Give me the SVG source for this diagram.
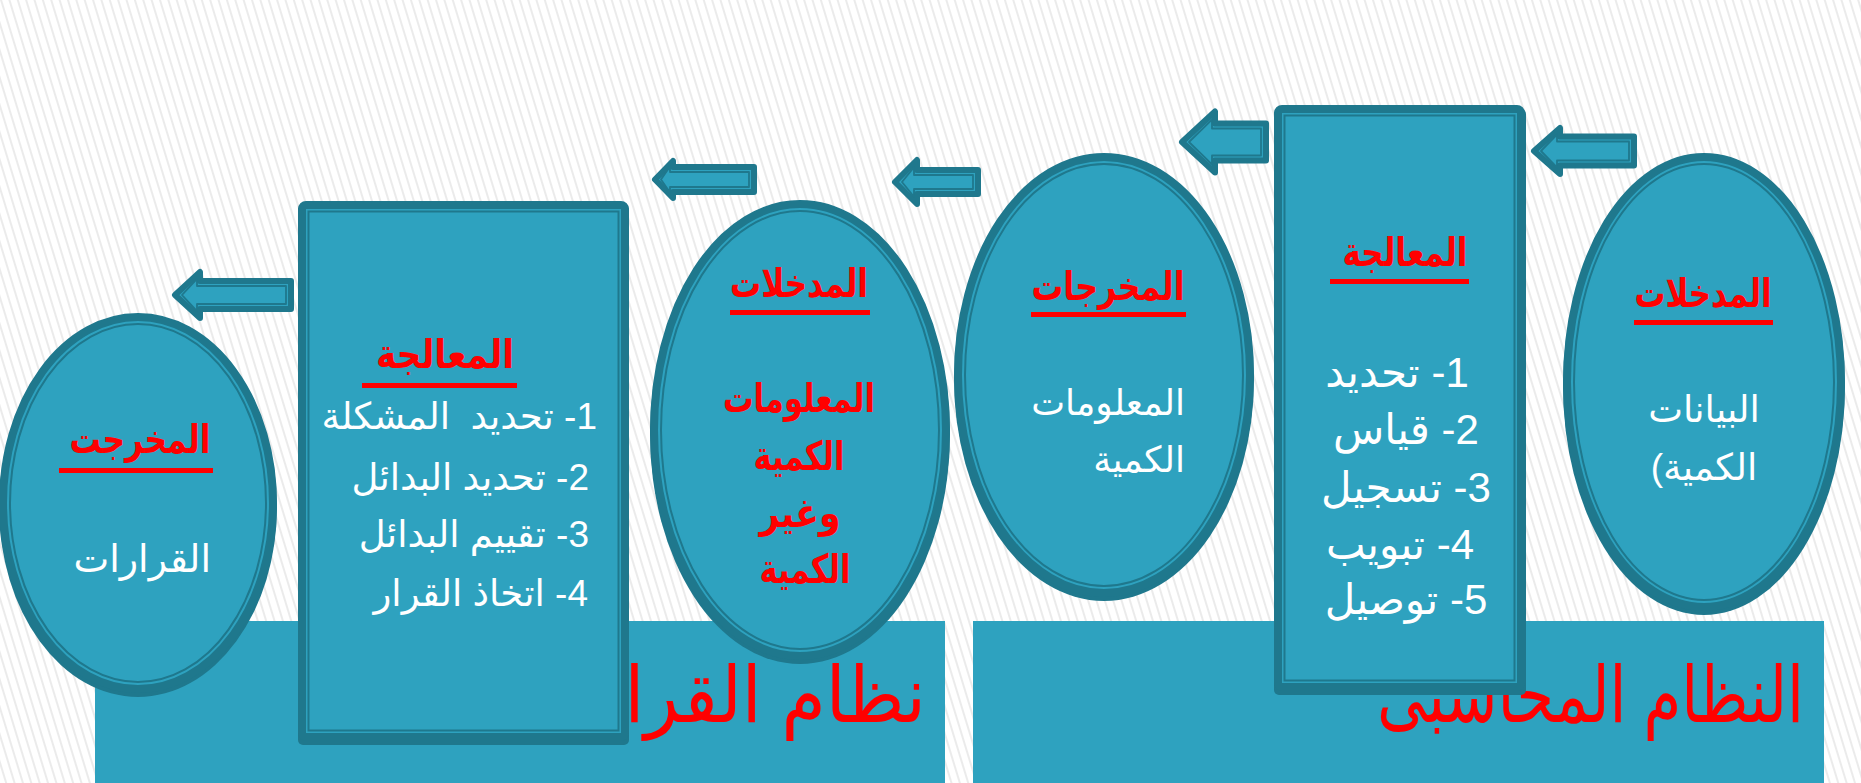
<svg xmlns="http://www.w3.org/2000/svg" width="1861" height="783" viewBox="0 0 1861 783">
<defs>
<pattern id="stripes" width="8" height="8" patternUnits="userSpaceOnUse" patternTransform="rotate(-17)">
<rect width="8" height="8" fill="#ffffff"/>
<rect width="2" height="8" fill="#ebebeb"/>
</pattern>
</defs>
<style>
.bar{fill:#2ea2bf}
.shape{fill:#2ea2bf;stroke:#1f788d;stroke-width:8}
.shadow{fill:#1f788d}
.inner{fill:none;stroke:#1f788d;stroke-width:2}
.arrow{fill:#2ea2bf;stroke:#1f788d;stroke-width:6;stroke-linejoin:round}
.arrowin{fill:none;stroke:#1f788d;stroke-width:1.8;stroke-linejoin:round}
text{font-family:'Liberation Sans','DejaVu Sans',sans-serif}
.h{font-weight:bold;fill:#ff0000;font-size:40px}
.hb{font-weight:bold;fill:#ff0000;font-size:40px}
.w{fill:#ffffff}
.ul{fill:#ff0000}
.title{fill:#ff0000;font-size:78px}
</style>
<rect width="1861" height="783" fill="url(#stripes)"/>

<g id="bar-decision">
<rect class="bar" x="95" y="621" width="850" height="162"/>
<text class="title" x="926" y="722" direction="rtl" text-anchor="start" textLength="336" lengthAdjust="spacingAndGlyphs">نظام القرار</text>
</g>
<g id="bar-accounting">
<rect class="bar" x="973" y="621" width="851" height="162"/>
<text class="title" x="1804" y="722" direction="rtl" text-anchor="start" textLength="427" lengthAdjust="spacingAndGlyphs">النظام المحاسبى</text>
</g>

<g id="node-decisions-output">
<ellipse class="shadow" cx="138" cy="507" rx="139" ry="190"/>
<ellipse class="shape" cx="138" cy="503" rx="135" ry="186"/>
<ellipse class="inner" cx="138" cy="503" rx="128" ry="179"/>
<text class="h" x="140" y="453" text-anchor="middle" direction="rtl" textLength="141" lengthAdjust="spacingAndGlyphs">المخرجت</text>
<rect class="ul" x="59" y="468" width="154" height="5"/>
<text class="w" x="211" y="572" font-size="38" text-anchor="start" direction="rtl">القرارات</text>
</g>

<g id="node-decision-processing">
<rect class="shadow" x="298" y="205" width="331" height="540" rx="5"/>
<rect class="shape" x="302" y="205" width="323" height="532" rx="4"/>
<rect class="inner" x="308.5" y="211.5" width="310" height="519"/>
<text class="h" x="445" y="368" text-anchor="middle" direction="rtl" textLength="138" lengthAdjust="spacingAndGlyphs">المعالجة</text>
<rect class="ul" x="362" y="383" width="155" height="5"/>
<text class="w" x="597" y="429" font-size="37" direction="rtl" text-anchor="start" xml:space="preserve">1- تحديد  المشكلة</text>
<text class="w" x="589" y="490" font-size="37" direction="rtl" text-anchor="start">2- تحديد البدائل</text>
<text class="w" x="589" y="547" font-size="37" direction="rtl" text-anchor="start">3- تقييم البدائل</text>
<text class="w" x="588" y="606" font-size="37" direction="rtl" text-anchor="start">4- اتخاذ القرار</text>
</g>

<g id="node-decision-inputs">
<ellipse class="shadow" cx="800" cy="434" rx="150" ry="230"/>
<ellipse class="shape" cx="800" cy="430" rx="146" ry="226"/>
<ellipse class="inner" cx="800" cy="430" rx="139" ry="219"/>
<text class="h" x="799" y="297" text-anchor="middle" direction="rtl" textLength="138" lengthAdjust="spacingAndGlyphs">المدخلات</text>
<rect class="ul" x="730" y="310" width="140" height="5"/>
<text class="hb" x="799" y="412" text-anchor="middle" direction="rtl" textLength="152" lengthAdjust="spacingAndGlyphs">المعلومات</text>
<text class="hb" x="799" y="470" text-anchor="middle" direction="rtl" textLength="91" lengthAdjust="spacingAndGlyphs">الكمية</text>
<text class="hb" x="800" y="527" text-anchor="middle" direction="rtl" textLength="81" lengthAdjust="spacingAndGlyphs">وغير</text>
<text class="hb" x="805" y="583" text-anchor="middle" direction="rtl" textLength="91" lengthAdjust="spacingAndGlyphs">الكمية</text>
</g>

<g id="node-accounting-outputs">
<ellipse class="shadow" cx="1104" cy="379" rx="150" ry="222"/>
<ellipse class="shape" cx="1104" cy="375" rx="146" ry="218"/>
<ellipse class="inner" cx="1104" cy="375" rx="139" ry="211"/>
<text class="h" x="1108" y="300" text-anchor="middle" direction="rtl" textLength="153" lengthAdjust="spacingAndGlyphs">المخرجات</text>
<rect class="ul" x="1031" y="312" width="155" height="5"/>
<text class="w" x="1185" y="415" font-size="36" direction="rtl" text-anchor="start">المعلومات</text>
<text class="w" x="1185" y="472" font-size="36" direction="rtl" text-anchor="start">الكمية</text>
</g>

<g id="node-accounting-processing">
<rect class="shadow" x="1274" y="109" width="252" height="586" rx="5"/>
<rect class="shape" x="1278" y="109" width="243" height="578" rx="4"/>
<rect class="inner" x="1284.5" y="115.5" width="230" height="565"/>
<text class="h" x="1405" y="266" text-anchor="middle" direction="rtl" textLength="125" lengthAdjust="spacingAndGlyphs">المعالجة</text>
<rect class="ul" x="1330" y="279" width="139" height="5"/>
<text class="w" x="1397" y="387" font-size="42" text-anchor="middle" direction="rtl">1- تحديد</text>
<text class="w" x="1406" y="444" font-size="42" text-anchor="middle" direction="rtl">2- قياس</text>
<text class="w" x="1406" y="502" font-size="42" text-anchor="middle" direction="rtl">3- تسجيل</text>
<text class="w" x="1400" y="559" font-size="42" text-anchor="middle" direction="rtl">4- تبويب</text>
<text class="w" x="1406" y="614" font-size="42" text-anchor="middle" direction="rtl">5- توصيل</text>
</g>

<g id="node-accounting-inputs">
<ellipse class="shadow" cx="1704" cy="386" rx="141" ry="229"/>
<ellipse class="shape" cx="1704" cy="382" rx="137" ry="225"/>
<ellipse class="inner" cx="1704" cy="382" rx="130" ry="218"/>
<text class="h" x="1703" y="307" text-anchor="middle" direction="rtl" textLength="137" lengthAdjust="spacingAndGlyphs">المدخلات</text>
<rect class="ul" x="1634" y="320" width="139" height="5"/>
<text class="w" x="1704" y="422" font-size="37" text-anchor="middle" direction="rtl">البيانات</text>
<text class="w" x="1704" y="480" font-size="37" text-anchor="middle" direction="rtl">الكمية)</text>
</g>

<g id="connectors">
<path class="arrow" d="M1534,151 L1560,128 L1560,136.5 L1634,136.5 L1634,165.5 L1560,165.5 L1560,174 Z"/>
<path class="arrowin" d="M1541,151 L1557,134.6 L1557,141.5 L1629,141.5 L1629,160.5 L1557,160.5 L1557,167.4 Z"/>
<path class="arrow" d="M1182,142 L1215,111.5 L1215,123.5 L1266,123.5 L1266,160.5 L1215,160.5 L1215,172.5 Z"/>
<path class="arrowin" d="M1189,142 L1212,119.7 L1212,128.5 L1261,128.5 L1261,155.5 L1212,155.5 L1212,164.3 Z"/>
<path class="arrow" d="M895,182 L917,160 L917,170 L978,170 L978,194 L917,194 L917,204 Z"/>
<path class="arrowin" d="M902,182 L914,167.3 L914,175 L973,175 L973,189 L914,189 L914,196.7 Z"/>
<path class="arrow" d="M655,179.5 L673,161 L673,167 L754,167 L754,192 L673,192 L673,198 Z"/>
<path class="arrowin" d="M661,179.5 L670,166.5 L670,172 L749,172 L749,187 L670,187 L670,192.5 Z"/>
<path class="arrow" d="M175,295 L200,272 L200,281 L291,281 L291,309 L200,309 L200,318 Z"/>
<path class="arrowin" d="M182,295 L197,278.8 L197,286 L286,286 L286,304 L197,304 L197,311.2 Z"/>
</g>
</svg>
